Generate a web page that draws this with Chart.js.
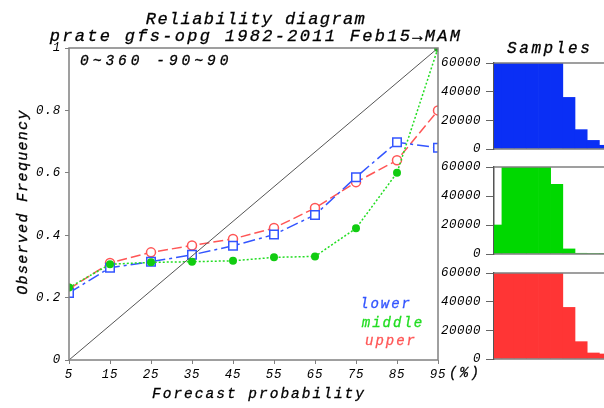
<!DOCTYPE html>
<html lang="en">
  <head>
    <meta charset="UTF-8" />
    <title>Reliability diagram</title>
    <script src="https://cdn.jsdelivr.net/npm/chart.js"></script>
    <style>
      body {
        margin: 0;
        width: 604px;
        height: 408px;
        overflow: hidden;
        position: relative;
        background: #fff;
        font-family: "Liberation Mono", monospace;
        font-style: italic;
      }
      canvas,
      .lbl {
        position: absolute;
      }
      .lbl {
        white-space: nowrap;
        color: #000;
        line-height: 20px;
        height: 20px;
        -webkit-text-stroke: 0.3px currentColor;
      }
    </style>
  </head>
  <body>
    <canvas id="main-chart" width="604" height="408" style="left:0;top:0"></canvas>
    <canvas id="hist-lower" width="164" height="126" style="left:440px;top:43px"></canvas>
    <canvas id="hist-middle" width="164" height="127" style="left:440px;top:147px"></canvas>
    <canvas id="hist-upper" width="164" height="126" style="left:440px;top:253px"></canvas>

    <div class="lbl" style="left:0;width:512px;text-align:center;top:10px;font-size:17px;letter-spacing:1.4px">Reliability diagram</div>
    <div class="lbl" style="left:0;width:512px;text-align:center;top:27px;font-size:17px;letter-spacing:2.3px">prate gfs-opg 1982-2011 Feb15→MAM</div>
    <div class="lbl" style="left:507px;top:39px;font-size:16px;letter-spacing:2.6px">Samples</div>
    <div class="lbl" style="left:80px;top:51px;font-size:14.5px;letter-spacing:4px">0~360 -90~90</div>
    <div class="lbl" style="left:449px;top:363px;font-size:14px;letter-spacing:2.3px">(%)</div>
    <div class="lbl" style="left:109px;width:300px;text-align:center;top:384px;font-size:14.5px;letter-spacing:2px">Forecast probability</div>
    <div class="lbl" style="left:-76px;width:200px;text-align:center;top:192px;font-size:15px;letter-spacing:1.3px;transform:rotate(-90deg)">Observed Frequency</div>

    <div class="lbl" style="left:336px;width:100px;text-align:center;top:294px;font-size:14px;letter-spacing:2px;color:#3355ff">lower</div>
    <div class="lbl" style="left:343px;width:100px;text-align:center;top:313px;font-size:14px;letter-spacing:2px;color:#22dd22">middle</div>
    <div class="lbl" style="left:341px;width:100px;text-align:center;top:331px;font-size:14px;letter-spacing:2px;color:#ff5555">upper</div>

    <script>
      //forecast probability bins (%)
      const probs = [5, 15, 25, 35, 45, 55, 65, 75, 85, 95];
      //observed frequency per tercile
      const lowerFreq = [0.215, 0.296, 0.315, 0.337, 0.366, 0.402, 0.465, 0.586, 0.698, 0.68];
      const middleFreq = [0.232, 0.307, 0.313, 0.315, 0.318, 0.329, 0.332, 0.422, 0.6, 1.0];
      const upperFreq = [0.228, 0.311, 0.345, 0.367, 0.388, 0.423, 0.487, 0.57, 0.64, 0.8];
      const yTicks = [0, 0.2, 0.4, 0.6, 0.8, 1];

      //sample counts per bin (bars above 60000 run off the panel)
      const binCenters = [0.5, 1.5, 2.5, 3.5, 4.5, 5.5, 6.5, 7.5, 8.5, 9.5];
      const lowerCount = [70000, 70000, 70000, 70000, 70000, 70000, 36000, 13500, 6000, 2600];
      const middleCount = [20000, 70000, 70000, 70000, 70000, 48000, 3500, 500, 300, 300];
      const upperCount = [70000, 70000, 70000, 70000, 70000, 70000, 36000, 12100, 4200, 3500];
      const countTicks = [0, 20000, 40000, 60000];

      const FONT = "Liberation Mono";

      //canvas letter spacing so the text looks wide like the original
      const spacingPlugin = {
        id: "spacing",
        beforeUpdate(chart, args, opts) {
          chart.ctx.letterSpacing = opts.px + "px";
        },
        beforeDraw(chart, args, opts) {
          chart.ctx.letterSpacing = opts.px + "px";
        },
      };

      //box around the plot area (or just top+bottom lines for the sample panels)
      const framePlugin = {
        id: "frame",
        afterDatasetsDraw(chart, args, opts) {
          const { ctx, chartArea: a } = chart;
          ctx.save();
          ctx.strokeStyle = "#808080";
          ctx.lineWidth = 1.5;
          if (opts.full) {
            ctx.strokeRect(a.left, a.top, a.right - a.left, a.bottom - a.top);
          } else {
            ctx.beginPath();
            ctx.moveTo(a.left, a.top);
            ctx.lineTo(a.right, a.top);
            ctx.moveTo(a.left, a.bottom);
            ctx.lineTo(a.right, a.bottom);
            ctx.stroke();
          }
          ctx.restore();
        },
      };

      const toPoints = (xs, ys) => xs.map((x, i) => ({ x: x, y: ys[i] }));
      const tickFont = { family: FONT, style: "italic", size: 12.5 };

      new Chart(document.getElementById("main-chart"), {
        type: "line",
        data: {
          datasets: [
            {
              label: "perfect",
              data: [
                { x: probs[0], y: yTicks[0] },
                { x: probs[probs.length - 1], y: yTicks[yTicks.length - 1] },
              ],
              borderColor: "#555",
              borderWidth: 1,
              pointRadius: 0,
            },
            {
              label: "middle",
              data: toPoints(probs, middleFreq),
              borderColor: "#22dd22",
              backgroundColor: "#11cc11",
              borderWidth: 1.5,
              borderDash: [2, 2],
              pointStyle: "circle",
              pointRadius: 4,
              pointBorderWidth: 0,
              clip: 0,
            },
            {
              label: "lower",
              data: toPoints(probs, lowerFreq),
              borderColor: "#3355ff",
              backgroundColor: "#fff",
              borderWidth: 1.5,
              borderDash: [12, 4, 3, 4],
              pointStyle: "rect",
              pointRadius: 6,
              pointBorderWidth: 1.5,
              clip: 0,
            },
            {
              label: "upper",
              data: toPoints(probs, upperFreq),
              borderColor: "#ff5555",
              backgroundColor: "#fff",
              borderWidth: 1.5,
              borderDash: [10, 4],
              pointStyle: "circle",
              pointRadius: 4.5,
              pointBorderWidth: 1.5,
              clip: 0,
            },
          ],
        },
        options: {
          responsive: false,
          animation: false,
          layout: { padding: { left: 0, top: 48, right: 604 - 438, bottom: 0 } },
          plugins: {
            legend: { display: false },
            tooltip: { enabled: false },
            spacing: { px: 0.8 },
            frame: { full: true },
          },
          scales: {
            x: {
              type: "linear",
              min: 5,
              max: 95,
              ticks: {
                stepSize: 10,
                autoSkip: false,
                maxRotation: 0,
                padding: 3,
                color: "#000",
                font: tickFont,
              },
              grid: { drawOnChartArea: false, tickLength: 4, color: "#808080" },
              border: { display: false },
              afterFit(s) {
                s.height = 48;
              },
            },
            y: {
              min: 0,
              max: 1,
              ticks: {
                stepSize: 0.2,
                padding: 4,
                color: "#000",
                font: tickFont,
                callback: (v) => String(+v.toFixed(1)),
              },
              grid: { drawOnChartArea: false, tickLength: 4, color: "#808080" },
              border: { display: false },
              afterFit(s) {
                s.width = 69;
              },
            },
          },
        },
        plugins: [spacingPlugin, framePlugin],
      });

      function makeHist(id, counts, color) {
        return new Chart(document.getElementById(id), {
          type: "bar",
          data: {
            datasets: [
              {
                data: toPoints(binCenters, counts),
                backgroundColor: color,
                borderWidth: 0,
                barPercentage: 1,
                categoryPercentage: 1,
              },
            ],
          },
          options: {
            responsive: false,
            animation: false,
            layout: { padding: { left: 0, top: 20, right: 0, bottom: 20 } },
            plugins: {
              legend: { display: false },
              tooltip: { enabled: false },
              spacing: { px: 0.5 },
              frame: { full: false },
            },
            scales: {
              x: { type: "linear", min: 0.35, max: 9.38, offset: false, display: false },
              y: {
                min: countTicks[0],
                max: countTicks[countTicks.length - 1],
                ticks: {
                  stepSize: countTicks[1] - countTicks[0],
                  padding: 5,
                  color: "#000",
                  font: tickFont,
                  callback: (v) => String(v),
                },
                grid: { drawOnChartArea: false, tickLength: 8, color: "#666" },
                border: { color: "#555", width: 1.5 },
                afterFit(s) {
                  s.width = 54;
                },
              },
            },
          },
          plugins: [spacingPlugin, framePlugin],
        });
      }

      makeHist("hist-lower", lowerCount, "#0a2ff5");
      makeHist("hist-middle", middleCount, "#00d800");
      makeHist("hist-upper", upperCount, "#ff3535");
    </script>
  </body>
</html>
